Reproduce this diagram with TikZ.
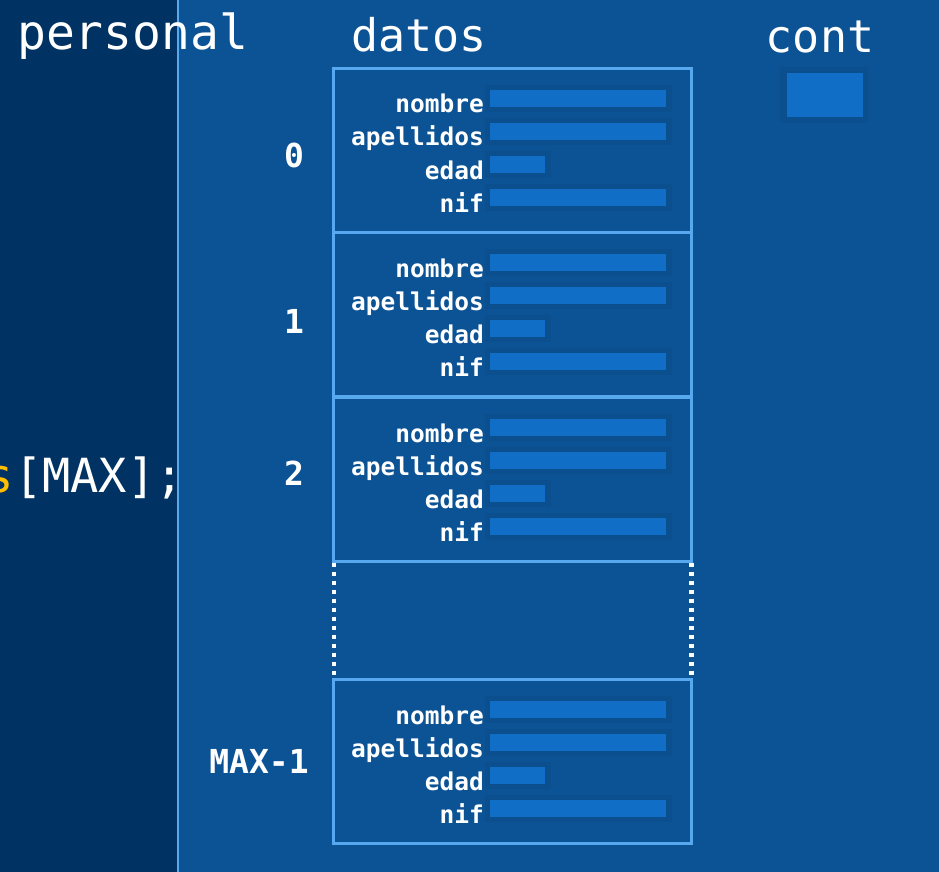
\documentclass[tikz,border=0pt]{standalone}
\usepackage{fontspec}
\setmonofont{DejaVu Sans Mono}
\usetikzlibrary{positioning}
\definecolor{panelL}{RGB}{0,51,100}
\definecolor{panelR}{RGB}{12,83,149}
\definecolor{frameC}{RGB}{88,168,240}
\definecolor{barC}{RGB}{16,110,198}
\definecolor{shadeC}{RGB}{12,79,143}
\definecolor{codeOr}{RGB}{255,190,0}
\begin{document}
\begin{tikzpicture}[x=1pt,y=-1pt,
  big/.style={font=\ttfamily\fontsize{45}{45}\selectfont,text=white,inner sep=0pt},
  idx/.style={font=\ttfamily\bfseries\fontsize{33}{33}\selectfont,text=white,inner sep=0pt,anchor=base},
  lbl/.style={font=\ttfamily\bfseries\fontsize{24.5}{24.5}\selectfont,text=white,inner sep=0pt,anchor=base east},
  cell/.style={draw=frameC,line width=2.6pt,minimum width=358pt,minimum height=164pt,inner sep=0pt,anchor=north west},
  dots/.style={draw=white,line width=4.5pt,dash pattern=on 4.5pt off 4.5pt}]
\useasboundingbox (0,0) rectangle (939,872);
\clip (0,0) rectangle (939,872);
% background panels
\fill[panelR] (0,0) rectangle (939,872);
\fill[panelL] (0,0) rectangle (178,872);
\coordinate (sepT) at (178,0);
\coordinate (sepB) at (178,872);
\draw[frameC,line width=2pt] (sepT) -- (sepB);
% code side
\node[big,anchor=base west,font=\ttfamily\fontsize{48}{48}\selectfont] (personal) at (17,50) {personal};
\node[big,anchor=base east,font=\ttfamily\fontsize{47}{47}\selectfont] (decl) at (184,492) {\textcolor{codeOr}{s}[MAX];};
% titles
\node[big,anchor=base] (datos) at (419,52) {datos};
\node[big,anchor=base] (cont) at (820,53) {cont};
% cont variable
\fill[shadeC] (780,67) rectangle (868,123);
\fill[barC] (787,73) rectangle (863,117);
% array cells
\foreach \t/\i in {67/0,231/1,396/2,678/3}{
  \node[cell] (box\i) at (332,\t) {};
  \foreach \k/\f/\w in {0/nombre/176,1/apellidos/176,2/edad/55,3/nif/176}{
    \pgfmathsetmacro{\yt}{\t+23+33*\k}
    \fill[shadeC] (485,\yt-5) rectangle (\w+496,\yt+22);
    \fill[barC] (490,\yt) rectangle (\w+490,\yt+17);
    \node[lbl] (f\i\k) at (484,\yt+23) {\f};
  }
}
% gap between 2 and MAX-1
\draw[dots] ([xshift=2pt]box2.south west) -- ([xshift=2pt]box3.north west);
\draw[dots] ([xshift=-1pt]box2.south east) -- ([xshift=-1pt]box3.north east);
% indices
\node[idx] (i0) at (294,167) {0};
\node[idx] (i1) at (294,333) {1};
\node[idx] (i2) at (294,485) {2};
\node[idx] (i3) at (259,773) {MAX-1};
\end{tikzpicture}
\end{document}
